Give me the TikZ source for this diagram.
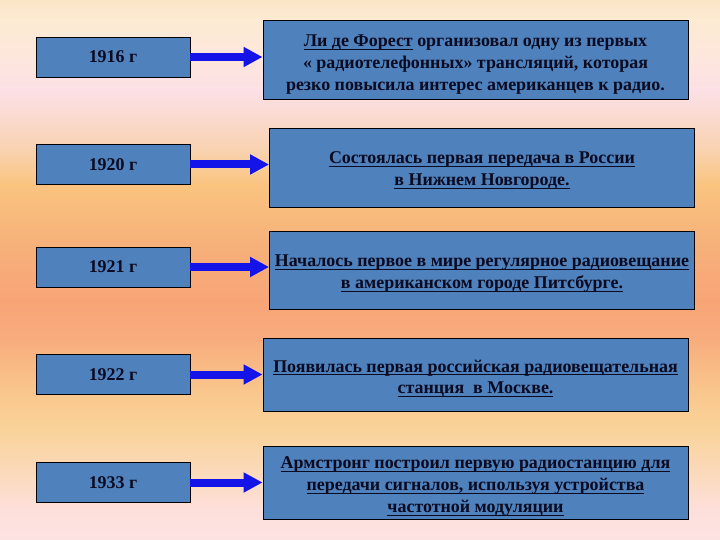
\documentclass[tikz,border=0pt]{standalone}
\usepackage{fontspec}
\setmainfont{Liberation Serif}
\newcommand{\myul}[1]{\leavevmode\setbox0=\hbox{#1}\rlap{\rule[-3.4pt]{\wd0}{1.1pt}}\box0\relax}
\usetikzlibrary{arrows.meta}
\definecolor{boxblue}{HTML}{4F81BD}
\definecolor{txt}{HTML}{0A0A20}
\definecolor{arrblue}{HTML}{1414E8}
\definecolor{bga}{HTML}{FAE5C6}
\definecolor{bgb}{HTML}{FDEBD3}
\definecolor{bgc}{HTML}{FDE6DD}
\definecolor{bgd}{HTML}{FCE0E6}
\definecolor{bge}{HTML}{FAD9CC}
\definecolor{bgf}{HTML}{F9D2B0}
\definecolor{bgg}{HTML}{FAC47F}
\definecolor{bgh}{HTML}{F6B27A}
\definecolor{bgi}{HTML}{F8A477}
\definecolor{bgj}{HTML}{F8AD7E}
\definecolor{bgk}{HTML}{F9C68C}
\definecolor{bgl}{HTML}{F9D39A}
\definecolor{bgm}{HTML}{FBD9B9}
\definecolor{bgn}{HTML}{FDE0DB}
\definecolor{bgo}{HTML}{FDE2E3}
\tikzset{
  yearbox/.style={draw=black, line width=0.9bp, fill=boxblue, minimum width=154bp, minimum height=40bp,
    inner sep=0pt, text=txt, font=\fontsize{18}{22}\selectfont\bfseries},
  eventbox/.style={draw=black, line width=0.9bp, fill=boxblue, minimum width=425bp, inner sep=0pt},
  evtext/.style={inner sep=0pt, text=txt, align=center, font=\fontsize{18}{22}\selectfont\bfseries},
  arr/.style={draw=arrblue, line width=8bp, -{Triangle[length=19bp,width=19bp]}}
}
\newcommand{\bgseg}[4]{\fill[top color=#3, bottom color=#4] (0,#1) rectangle (720,#2);}
\begin{document}
\begin{tikzpicture}[x=1bp,y=-1bp]
\useasboundingbox (0,0) rectangle (720,540);
% background gradient
\bgseg{0}{20.5}{bga}{bgb}
\bgseg{20}{60.5}{bgb}{bgc}
\bgseg{60}{90.5}{bgc}{bgd}
\bgseg{90}{120.5}{bgd}{bge}
\bgseg{120}{150.5}{bge}{bgf}
\bgseg{150}{185.5}{bgf}{bgg}
\bgseg{185}{240.5}{bgg}{bgh}
\bgseg{240}{300.5}{bgh}{bgi}
\bgseg{300}{340.5}{bgi}{bgj}
\bgseg{340}{390.5}{bgj}{bgk}
\bgseg{390}{430.5}{bgk}{bgl}
\bgseg{430}{470.5}{bgl}{bgm}
\bgseg{470}{510.5}{bgm}{bgn}
\bgseg{510}{540}{bgn}{bgo}
% year boxes
\node[yearbox] (l1) at (113,57) {1916 г};
\node[yearbox] (l2) at (113,164.5) {1920 г};
\node[yearbox] (l3) at (113,267) {1921 г};
\node[yearbox] (l4) at (113,374.5) {1922 г};
\node[yearbox] (l5) at (113,482.5) {1933 г};
% event boxes
\node[eventbox, minimum height=79bp] (r1) at (475.5,59.5) {};
\node[eventbox, minimum height=79bp] (r2) at (482,167.5) {};
\node[eventbox, minimum height=78bp] (r3) at (482,270) {};
\node[eventbox, minimum height=73bp] (r4) at (475.5,374.5) {};
\node[eventbox, minimum height=73bp] (r5) at (475.5,482.5) {};
\node[evtext] (t1) at ([yshift=-5bp]r1.center)
  {\myul{Ли де Форест} организовал одну из первых\\
   « радиотелефонных» трансляций, которая\\
   резко повысила интерес американцев к радио.};
\node[evtext] (t2) at ([yshift=-3bp]r2.center)
  {\myul{Состоялась первая передача в России}\\
   \myul{в Нижнем Новгороде.}};
\node[evtext] (t3) at ([yshift=-4bp]r3.center)
  {\myul{Началось первое в мире регулярное радиовещание}\\
   \myul{в американском городе Питсбурге.}};
\node[evtext] (t4) at ([yshift=-4bp]r4.center)
  {\myul{Появилась первая российская радиовещательная}\\
   \myul{станция\ \ в Москве.}};
\node[evtext] (t5) at ([yshift=-4bp]r5.center)
  {\myul{Армстронг построил первую радиостанцию для}\\
   \myul{передачи сигналов, используя устройства}\\
   \myul{частотной модуляции}};
% arrows
\draw[arr] (l1.east) -- (l1.east -| r1.west);
\draw[arr] (l2.east) -- (l2.east -| r2.west);
\draw[arr] (l3.east) -- (l3.east -| r3.west);
\draw[arr] (l4.east) -- (l4.east -| r4.west);
\draw[arr] (l5.east) -- (l5.east -| r5.west);
\end{tikzpicture}
\end{document}
